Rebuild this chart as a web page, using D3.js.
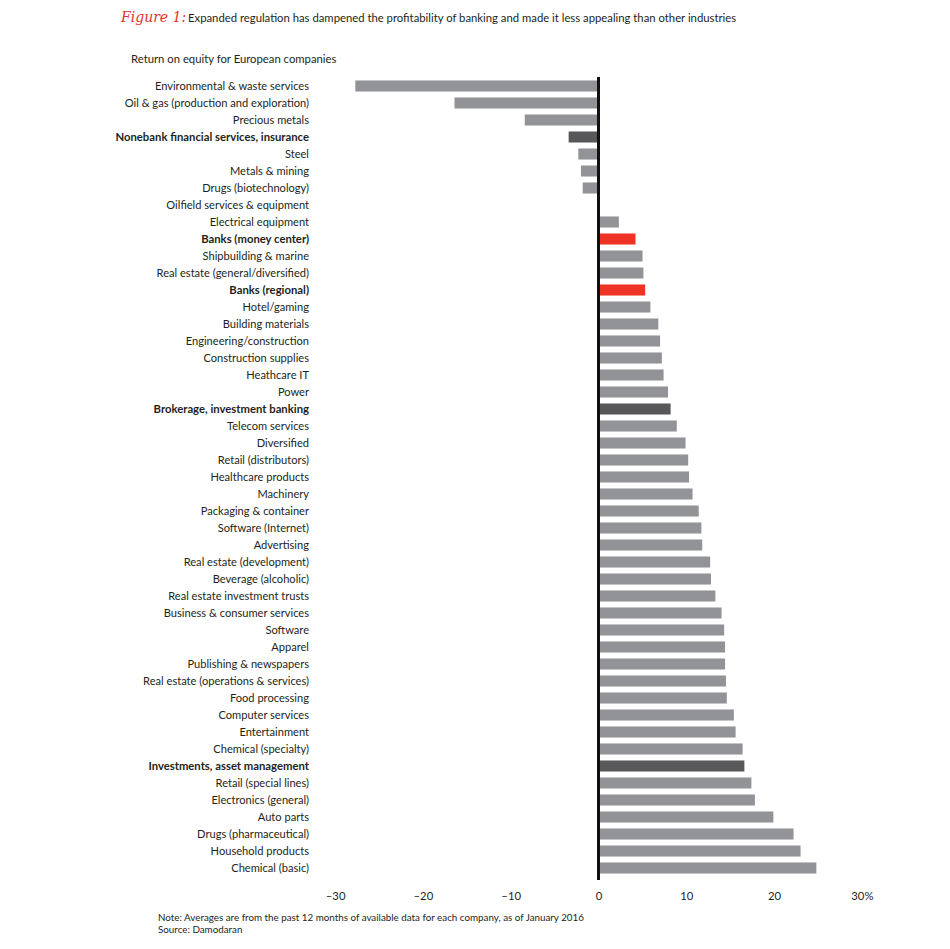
<!DOCTYPE html>
<html>
<head>
<meta charset="utf-8">
<script src="https://cdn.jsdelivr.net/npm/d3@7"></script>
<style>
  html, body { margin: 0; padding: 0; background: #fff; }
  svg { display: block; font-family: Lato, "Open Sans", sans-serif; }
</style>
</head>
<body>
<svg id="chart" width="950" height="949"></svg>
<script>
const categories = [
  "Environmental & waste services",
  "Oil & gas (production and exploration)",
  "Precious metals",
  "Nonebank financial services, insurance",
  "Steel",
  "Metals & mining",
  "Drugs (biotechnology)",
  "Oilfield services & equipment",
  "Electrical equipment",
  "Banks (money center)",
  "Shipbuilding & marine",
  "Real estate (general/diversified)",
  "Banks (regional)",
  "Hotel/gaming",
  "Building materials",
  "Engineering/construction",
  "Construction supplies",
  "Heathcare IT",
  "Power",
  "Brokerage, investment banking",
  "Telecom services",
  "Diversified",
  "Retail (distributors)",
  "Healthcare products",
  "Machinery",
  "Packaging & container",
  "Software (Internet)",
  "Advertising",
  "Real estate (development)",
  "Beverage (alcoholic)",
  "Real estate investment trusts",
  "Business & consumer services",
  "Software",
  "Apparel",
  "Publishing & newspapers",
  "Real estate (operations & services)",
  "Food processing",
  "Computer services",
  "Entertainment",
  "Chemical (specialty)",
  "Investments, asset management",
  "Retail (special lines)",
  "Electronics (general)",
  "Auto parts",
  "Drugs (pharmaceutical)",
  "Household products",
  "Chemical (basic)"
];

const roeValues = [
  -27.7, -16.4, -8.4, -3.4, -2.3, -2.0, -1.8, 0,
  2.2, 4.1, 4.9, 5.0, 5.2, 5.8, 6.7, 6.9, 7.1, 7.3, 7.8, 8.1,
  8.8, 9.8, 10.1, 10.2, 10.6, 11.3, 11.6, 11.7, 12.6, 12.7,
  13.2, 13.9, 14.2, 14.3, 14.3, 14.4, 14.5, 15.3, 15.5, 16.3,
  16.5, 17.3, 17.7, 19.8, 22.1, 22.9, 24.7
];

// group: "bank" = red, "finance" = dark, "other" = grey
const bankCategories = ["Banks (money center)", "Banks (regional)"];
const financeCategories = ["Nonebank financial services, insurance", "Brokerage, investment banking", "Investments, asset management"];
const groups = categories.map(c =>
  bankCategories.includes(c) ? "bank" :
  financeCategories.includes(c) ? "finance" : "other");

const tickValues = [-30, -20, -10, 0, 10, 20, 30];
const tickLabels = ["\u201330", "\u201320", "\u201310", "0", "10", "20", "30%"];

const titleLead = "Figure 1:";
const titleText = "Expanded regulation has dampened the profitability of banking and made it less appealing than other industries";
const subtitle = "Return on equity for European companies";
const notes = ["Note: Averages are from the past 12 months of available data for each company, as of January 2016", "Source: Damodaran"];

const colors = { other: "#929397", finance: "#58585a", bank: "#ee3224" };

const svg = d3.select("#chart");

const x = d3.scaleLinear().domain([-30, 30]).range([335.1, 861.9]);
const y = d3.scaleBand().domain(categories).range([77.5, 876.5]).paddingInner(0.35).paddingOuter(0.175);

// title
svg.append("text")
  .attr("x", 121).attr("y", 22)
  .attr("fill", "#e8322b")
  .style("font-family", "'DejaVu Serif', serif")
  .style("font-style", "italic")
  .style("font-size", "14px")
  .text(titleLead);
svg.append("text")
  .attr("x", 188).attr("y", 22)
  .attr("fill", "#231f20")
  .style("font-size", "11.3px")
  .text(titleText);

svg.append("text")
  .attr("x", 131).attr("y", 63)
  .attr("fill", "#231f20")
  .style("font-size", "11.3px")
  .text(subtitle);

// bars
svg.append("g").selectAll("rect")
  .data(categories)
  .join("rect")
  .attr("x", (d, i) => roeValues[i] < 0 ? x(roeValues[i]) : x(0) + 1)
  .attr("width", (d, i) => Math.abs(x(roeValues[i]) - x(0)))
  .attr("y", d => y(d))
  .attr("height", y.bandwidth())
  .attr("fill", (d, i) => colors[groups[i]]);

// labels
svg.append("g").selectAll("text")
  .data(categories)
  .join("text")
  .attr("x", 309)
  .attr("y", d => y(d) + y.bandwidth() / 2)
  .attr("dy", "0.35em")
  .attr("text-anchor", "end")
  .attr("fill", "#231f20")
  .style("font-size", (d, i) => groups[i] === "other" ? "11.1px" : "11.3px")
  .style("font-weight", (d, i) => groups[i] === "other" ? "normal" : "bold")
  .text(d => d);

// zero line
svg.append("line")
  .attr("x1", x(0)).attr("x2", x(0))
  .attr("y1", 77).attr("y2", 880)
  .attr("stroke", "#111")
  .attr("stroke-width", 3);

// x axis
const axis = d3.axisBottom(x)
  .tickValues(tickValues)
  .tickSize(0)
  .tickPadding(0)
  .tickFormat((d, i) => tickLabels[i]);
const ax = svg.append("g")
  .attr("transform", "translate(0,892)")
  .call(axis);
ax.select(".domain").remove();
ax.selectAll("text")
  .attr("fill", "#231f20")
  .style("font-size", "11.3px")
  .style("font-family", "Lato, 'Open Sans', sans-serif");

// notes
svg.append("g").selectAll("text")
  .data(notes)
  .join("text")
  .attr("x", 158)
  .attr("y", (d, i) => 921 + i * 12)
  .attr("fill", "#231f20")
  .style("font-size", "9.8px")
  .text(d => d);
</script>
</body>
</html>
